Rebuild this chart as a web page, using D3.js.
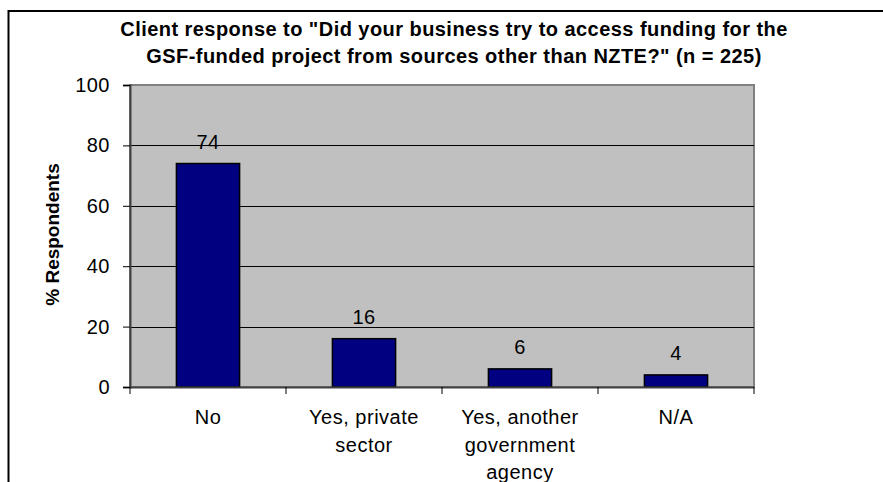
<!DOCTYPE html>
<html>
<head>
<meta charset="utf-8">
<script src="https://cdn.jsdelivr.net/npm/d3@7"></script>
<style>
  html, body { margin: 0; padding: 0; background: #fff; }
  svg { display: block; font-family: Arial, "Liberation Sans", sans-serif; }
</style>
</head>
<body>
<svg id="chart" width="883" height="482"></svg>
<script>
// Survey responses (% of respondents)
const categories = ["No", "Yes, private sector", "Yes, another government agency", "N/A"];
const categoryLines = [["No"], ["Yes, private", "sector"], ["Yes, another", "government", "agency"], ["N/A"]];
const values = [74, 16, 6, 4];
const yTicks = [0, 20, 40, 60, 80, 100];
const titleLines = [
  "Client response to \"Did your business try to access funding for the",
  "GSF-funded project from sources other than NZTE?\" (n = 225)"
];
const yAxisTitle = "% Respondents";

const FONT = "Arial, 'Liberation Sans', sans-serif";
const svg = d3.select("#chart");
const plot = { left: 130, right: 754, top: 85, bottom: 387 };

// Outer chart frame
svg.append("path")
  .attr("d", "M8.5,482 V11 H883")
  .attr("fill", "none").attr("stroke", "#000").attr("stroke-width", 2);

// Scales
const x = d3.scaleBand().domain(categories).range([plot.left, plot.right]).paddingInner(0).paddingOuter(0);
const y = d3.scaleLinear().domain([0, 100]).range([plot.bottom, plot.top]);
const barW = x.bandwidth() * 0.405;

// Plot background
svg.append("rect")
  .attr("x", plot.left).attr("y", plot.top)
  .attr("width", plot.right - plot.left).attr("height", plot.bottom - plot.top)
  .attr("fill", "#c0c0c0").attr("stroke", "#808080").attr("stroke-width", 2);

// Gridlines
svg.append("g").selectAll("line").data(yTicks.filter(t => t > 0 && t < 100)).join("line")
  .attr("x1", plot.left).attr("x2", plot.right)
  .attr("y1", d => Math.round(y(d)) + 0.5).attr("y2", d => Math.round(y(d)) + 0.5)
  .attr("stroke", "#000").attr("stroke-width", 1);

// Bars
svg.append("g").selectAll("rect").data(values).join("rect")
  .attr("x", (d, i) => x(categories[i]) + (x.bandwidth() - barW) / 2)
  .attr("y", d => y(d))
  .attr("width", barW)
  .attr("height", d => y(0) - y(d))
  .attr("fill", "#000080").attr("stroke", "#000").attr("stroke-width", 1.5);

// Value labels
svg.append("g").selectAll("text").data(values).join("text")
  .attr("x", (d, i) => x(categories[i]) + x.bandwidth() / 2)
  .attr("y", d => y(d) - 15)
  .attr("text-anchor", "middle")
  .attr("font-size", 20).attr("letter-spacing", "0.5px").attr("fill", "#000")
  .text(d => d);

// Y axis
const yAxis = svg.append("g")
  .attr("transform", `translate(${plot.left},0)`)
  .call(d3.axisLeft(y).tickValues(yTicks).tickSize(7).tickPadding(13));
yAxis.select(".domain").attr("stroke", "#404040").attr("stroke-width", 2);
yAxis.selectAll(".tick line").attr("stroke", "#000");
yAxis.selectAll(".tick text")
  .attr("font-size", 20).attr("letter-spacing", "0.5px")
  .attr("font-family", FONT).attr("fill", "#000");

// X axis
const xAxis = svg.append("g")
  .attr("transform", `translate(0,${plot.bottom})`)
  .call(d3.axisBottom(x).tickSize(0).tickFormat(""));
xAxis.select(".domain").attr("stroke", "#404040").attr("stroke-width", 2);
const boundaries = categories.map(c => x(c)).concat([plot.right]);
xAxis.selectAll("line.bound").data(boundaries).join("line")
  .attr("class", "bound")
  .attr("x1", d => d).attr("x2", d => d)
  .attr("y1", 0).attr("y2", 7)
  .attr("stroke", "#000");

// Category labels
const catG = svg.append("g");
categories.forEach((c, i) => {
  const cx = x(c) + x.bandwidth() / 2;
  const t = catG.append("text")
    .attr("x", cx).attr("y", 424)
    .attr("text-anchor", "middle")
    .attr("font-size", 20).attr("letter-spacing", "0.5px").attr("fill", "#000");
  categoryLines[i].forEach((line, j) => {
    t.append("tspan").attr("x", cx).attr("dy", j === 0 ? 0 : 27.5).text(line);
  });
});

// Title
const title = svg.append("text")
  .attr("x", 454).attr("y", 36)
  .attr("text-anchor", "middle")
  .attr("font-size", 20).attr("font-weight", "bold").attr("letter-spacing", "0.45px").attr("fill", "#000");
titleLines.forEach((line, j) => {
  title.append("tspan").attr("x", 454).attr("dy", j === 0 ? 0 : 27).text(line);
});

// Y axis title
svg.append("text")
  .attr("transform", "translate(59,234.5) rotate(-90)")
  .attr("text-anchor", "middle")
  .attr("font-size", 19).attr("font-weight", "bold").attr("fill", "#000")
  .text(yAxisTitle);
</script>
</body>
</html>
